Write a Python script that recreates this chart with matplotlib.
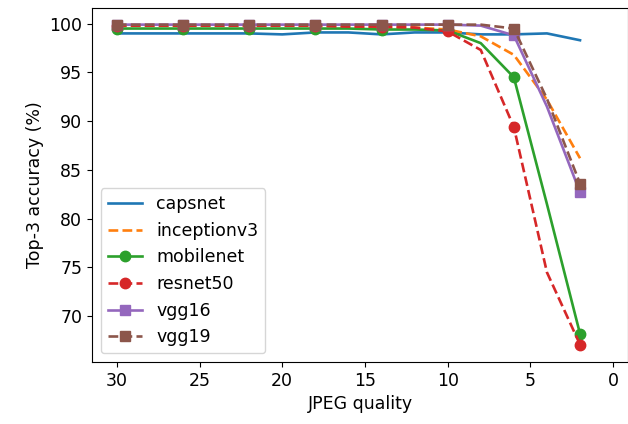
import numpy as np
import matplotlib.pyplot as plt

quality = [30, 28, 26, 24, 22, 20, 18, 16, 14, 12, 10, 8, 6, 4, 2]

capsnet = [99.0, 99.0, 99.0, 99.0, 99.0, 98.9, 99.1, 99.1, 98.9, 99.1, 99.1, 98.9, 98.9, 99.0, 98.3]
inceptionv3 = [99.8, 99.8, 99.8, 99.8, 99.8, 99.8, 99.8, 99.7, 99.6, 99.6, 99.4, 98.7, 96.8, 92.2, 86.2]
mobilenet = [99.5, 99.5, 99.5, 99.5, 99.5, 99.5, 99.5, 99.5, 99.4, 99.4, 99.3, 98.0, 94.5, 81.5, 68.2]
resnet50 = [99.8, 99.8, 99.8, 99.8, 99.8, 99.8, 99.8, 99.7, 99.7, 99.6, 99.2, 97.3, 89.4, 74.5, 67.1]
vgg16 = [99.9, 99.9, 99.9, 99.9, 99.9, 99.9, 99.9, 99.9, 99.9, 99.9, 99.9, 99.8, 98.8, 91.5, 82.7]
vgg19 = [99.9, 99.9, 99.9, 99.9, 99.9, 99.9, 99.9, 99.9, 99.9, 99.9, 99.9, 99.9, 99.5, 92.3, 83.6]

plt.rcParams['font.size'] = 12.5
fig = plt.figure(figsize=(6.28, 4.24), dpi=100)
ax = fig.add_axes([0.1465, 0.146, 0.8535, 0.835])

lw = 1.9
ms = 7.5
ax.plot(quality, capsnet, '-', lw=lw, label='capsnet')
ax.plot(quality, inceptionv3, '--', lw=lw, label='inceptionv3')
ax.plot(quality, mobilenet, '-o', lw=lw, ms=ms, markevery=2, label='mobilenet')
ax.plot(quality, resnet50, '--o', lw=lw, ms=ms, markevery=2, label='resnet50')
ax.plot(quality, vgg16, '-s', lw=lw, ms=ms, markevery=2, label='vgg16')
ax.plot(quality, vgg19, '--s', lw=lw, ms=ms, markevery=2, label='vgg19')

ax.set_xlim(31.5, -0.9)
ax.set_ylim(65.3, 101.6)
ax.set_xticks([30, 25, 20, 15, 10, 5, 0])
ax.set_yticks([70, 75, 80, 85, 90, 95, 100])
ax.set_xlabel('JPEG quality')
ax.set_ylabel('Top-3 accuracy (%)')
ax.legend(loc='lower left')

fig.savefig('out.png', dpi=100)
